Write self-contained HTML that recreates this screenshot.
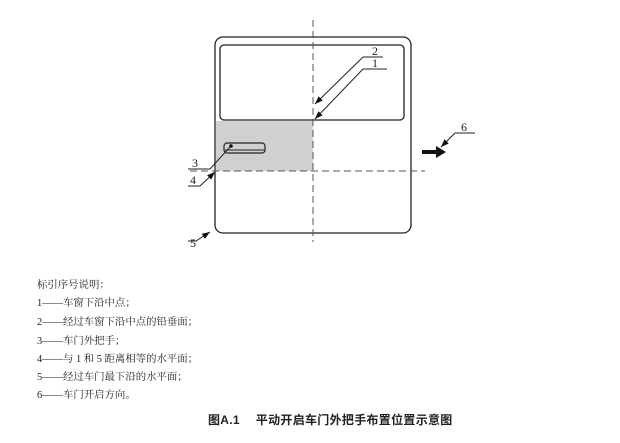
<!DOCTYPE html>
<html><head><meta charset="utf-8"><style>
body{margin:0;background:#fff;width:620px;height:443px;overflow:hidden}
svg{position:absolute;left:0;top:0}
</style></head><body>
<svg width="620" height="443" viewBox="0 0 620 443" xmlns="http://www.w3.org/2000/svg">
<defs><marker id="a" markerWidth="8" markerHeight="6" refX="8" refY="3" orient="auto" markerUnits="userSpaceOnUse"><path d="M0,0 L8,3 L0,6z" fill="#111"/></marker></defs>
<rect x="216" y="121" width="97" height="50" fill="#d0d0d0"/>
<rect x="215" y="37" width="196" height="196" rx="8" fill="none" stroke="#222" stroke-width="1.3"/>
<rect x="220" y="45" width="184" height="75" rx="4" fill="none" stroke="#222" stroke-width="1.3"/>
<rect x="224" y="143" width="41" height="10" rx="3" fill="none" stroke="#222" stroke-width="1.2"/>
<line x1="225" y1="150" x2="265" y2="150" stroke="#222" stroke-width="1"/>
<circle cx="231" cy="146" r="1.8" fill="#111"/>
<line x1="313" y1="20" x2="313" y2="242" stroke="#555" stroke-width="1" stroke-dasharray="7,4"/>
<line x1="190" y1="171" x2="425" y2="171" stroke="#555" stroke-width="1" stroke-dasharray="7,4"/>
<g stroke="#222" stroke-width="1" fill="none">
<polyline points="383,57 363,57 315,104" marker-end="url(#a)"/>
<polyline points="387,69 363,69 315,119" marker-end="url(#a)"/>
<polyline points="475,133 455,133 441,147" marker-end="url(#a)"/>
<polyline points="188,169 210,169 230,147"/>
<polyline points="188,186 200,186 215,172" marker-end="url(#a)"/>
<polyline points="188,241 196,241 210,232" marker-end="url(#a)"/>
</g>
<line x1="422" y1="152" x2="438" y2="152" stroke="#111" stroke-width="4"/>
<path d="M436,146 L446,152 L436,158z" fill="#111"/>
<g font-family="Liberation Serif, serif" font-size="12" fill="#222">
<text x="372" y="55">2</text><text x="372" y="67">1</text>
<text x="461" y="131">6</text><text x="192" y="167">3</text>
<text x="190" y="184">4</text><text x="190" y="247">5</text>
</g>
<g font-family="Liberation Serif, 'Noto Serif CJK SC', serif" font-size="10.4" fill="#222">
<text x="37" y="288">标引序号说明：</text>
<text x="37" y="306">1——车窗下沿中点；</text>
<text x="37" y="325">2——经过车窗下沿中点的铅垂面；</text>
<text x="37" y="344">3——车门外把手；</text>
<text x="37" y="362">4——与 1 和 5 距离相等的水平面；</text>
<text x="37" y="380">5——经过车门最下沿的水平面；</text>
<text x="37" y="398">6——车门开启方向。</text>
</g>
<text x="208" y="424" font-family="Liberation Sans, 'Noto Sans CJK SC', sans-serif" font-size="12" font-weight="bold" fill="#222" letter-spacing="0.3">图A.1　 平动开启车门外把手布置位置示意图</text>
</svg>
</body></html>
